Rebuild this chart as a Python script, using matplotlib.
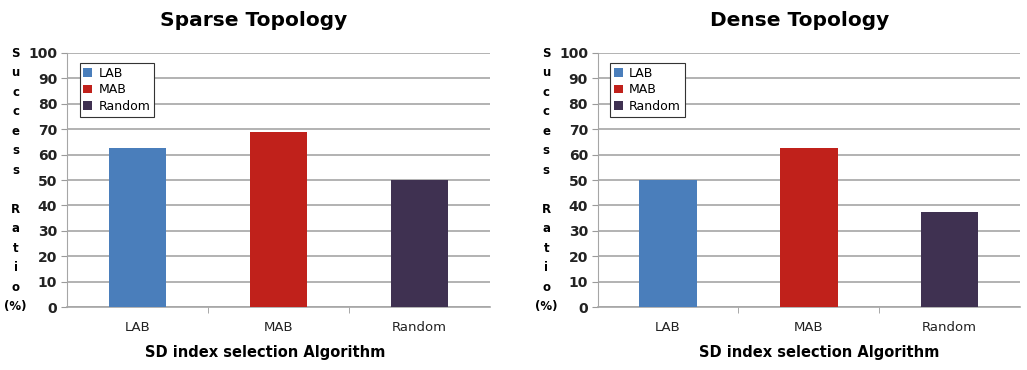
import numpy as np
import matplotlib.pyplot as plt
from matplotlib.patches import Patch

algorithms = ["LAB", "MAB", "Random"]
sparse_ratio = [62.5, 68.75, 50.0]
dense_ratio = [50.0, 62.5, 37.5]
colors = ["#4a7ebb", "#c0211b", "#3f3151"]

panels = [
    ("Sparse Topology", sparse_ratio, [0.0652, 0.170, 0.412, 0.687], 0.247, 0.258),
    ("Dense Topology", dense_ratio, [0.582, 0.170, 0.411, 0.687], 0.779, 0.798),
]

fig = plt.figure(figsize=(10.27, 3.7), dpi=100)
ylab = "S\nu\nc\nc\ne\ns\ns\n\nR\na\nt\ni\no\n(%)"

for title, vals, rect, tx, xl in panels:
    ax = fig.add_axes(rect)
    x = np.arange(len(algorithms))
    ax.bar(x, vals, width=0.41, color=colors, zorder=3)
    ax.set_xlim(-0.5, 2.5)
    ax.set_ylim(0, 100)
    ax.set_yticks(range(0, 101, 10))
    ax.set_xticks(x)
    ax.set_xticklabels(algorithms, fontsize=9.5, color="#222222")
    ax.set_xticks([0.5, 1.5], minor=True)
    ax.tick_params(axis="x", which="major", length=0, pad=10)
    ax.tick_params(axis="x", which="minor", length=4, color="#9a9a9a", direction="out")
    ax.tick_params(axis="y", length=4, color="#9a9a9a", labelsize=10, pad=3)
    for lbl in ax.get_yticklabels():
        lbl.set_fontweight("bold")
        lbl.set_color("#222222")
    ax.grid(axis="y", color="#a6a6a6", linewidth=1.2, zorder=0)
    for s in ["top", "right"]:
        ax.spines[s].set_visible(False)
    ax.spines["left"].set_color("#a6a6a6")
    ax.spines["bottom"].set_color("#a6a6a6")
    ax.spines["bottom"].set_linewidth(1.2)

    handles = [Patch(facecolor=c, label=a) for a, c in zip(algorithms, colors)]
    leg = ax.legend(handles=handles, loc="upper left", bbox_to_anchor=(0.015, 0.985),
                    fontsize=9, handlelength=0.7, handleheight=0.7, handletextpad=0.5,
                    borderpad=0.3, labelspacing=0.3, fancybox=False, framealpha=1)
    leg.get_frame().set_edgecolor("#333333")
    leg.get_frame().set_linewidth(0.8)

    fig.text(tx, 0.945, title, ha="center", va="center", fontsize=14.5, fontweight="bold")
    fig.text(xl, 0.048, "SD index selection Algorithm", ha="center", va="center",
             fontsize=10.5, fontweight="bold")
    fig.text(rect[0] - 0.05, 0.513, ylab, ha="center", va="center", fontsize=8.5,
             fontweight="bold", linespacing=1.65)

fig.savefig("out.png", dpi=100)
